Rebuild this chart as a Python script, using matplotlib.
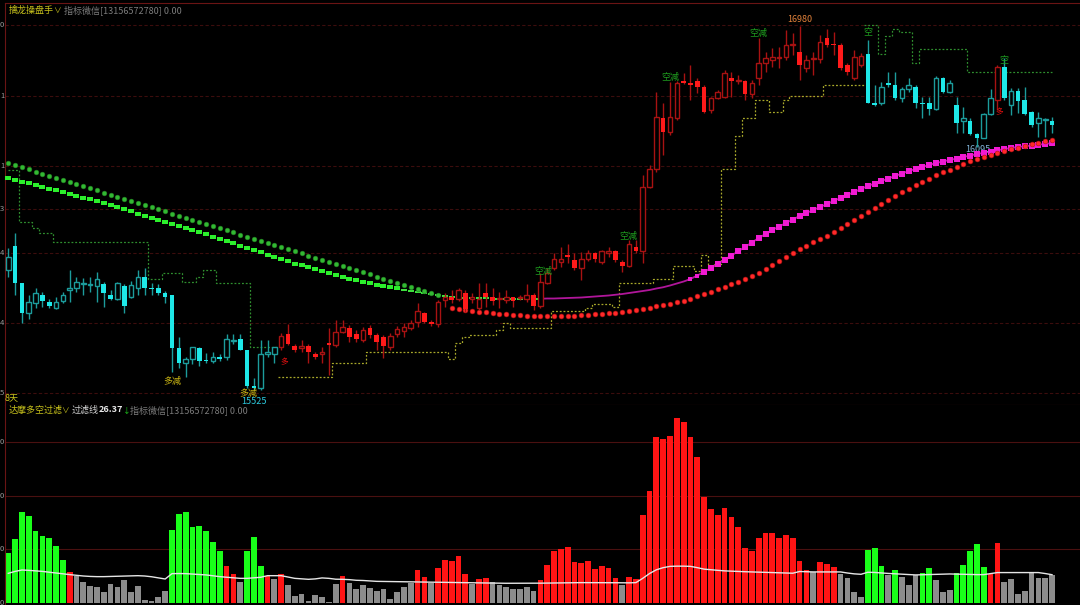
import numpy as np
import matplotlib
matplotlib.use("Agg")
import matplotlib.pyplot as plt
import matplotlib.transforms as mtransforms
from matplotlib.patches import Rectangle
from matplotlib.collections import LineCollection

plt.rcParams['font.family'] = ['Noto Sans CJK SC', 'DejaVu Sans']

# ---- price candles (154 bars) ----
opens = [16005, 16101, 15953, 15833, 15873, 15905, 15877, 15853, 15881, 15925,
         15933, 15949, 15945, 15941, 15949, 15905, 15889, 15941, 15897, 15933,
         15977, 15933, 15933, 15913, 15905, 15693, 15633, 15649, 15693, 15645,
         15641, 15657, 15657, 15721, 15729, 15685, 15541, 15533, 15669, 15669,
         15697, 15749, 15701, 15693, 15701, 15669, 15669, 15713, 15705, 15757,
         15773, 15749, 15725, 15773, 15745, 15737, 15697, 15749, 15761, 15773,
         15797, 15833, 15797, 15789, 15885, 15897, 15889, 15913, 15889, 15853,
         15913, 15897, 15889, 15885, 15897, 15893, 15889, 15905, 15861, 15953,
         16013, 16037, 16065, 16045, 16013, 16049, 16073, 16037, 16073, 16081,
         16037, 16021, 16097, 16081, 16337, 16409, 16613, 16557, 16613, 16761,
         16753, 16761, 16737, 16645, 16693, 16697, 16773, 16761, 16761, 16709,
         16773, 16833, 16845, 16853, 16857, 16905, 16877, 16813, 16849, 16849,
         16933, 16909, 16905, 16825, 16773, 16825, 16869, 16673, 16673, 16753,
         16745, 16693, 16729, 16737, 16673, 16673, 16649, 16773, 16717, 16665,
         16601, 16601, 16549, 16533, 16629, 16685, 16817, 16665, 16721, 16685,
         16637, 16593, 16605, 16601]
closes = [16057, 15953, 15833, 15877, 15913, 15881, 15861, 15877, 15905, 15933,
          15957, 15951, 15949, 15969, 15913, 15889, 15953, 15861, 15945, 15977,
          15933, 15931, 15913, 15897, 15693, 15633, 15649, 15697, 15641, 15641,
          15657, 15649, 15729, 15725, 15685, 15541, 15533, 15669, 15677, 15697,
          15741, 15709, 15685, 15701, 15677, 15657, 15677, 15705, 15757, 15777,
          15737, 15729, 15765, 15745, 15717, 15701, 15741, 15769, 15777, 15793,
          15841, 15797, 15789, 15877, 15897, 15885, 15925, 15849, 15897, 15889,
          15897, 15881, 15893, 15897, 15881, 15897, 15905, 15861, 15957, 15993,
          16049, 16049, 16057, 16013, 16049, 16073, 16049, 16081, 16081, 16045,
          16021, 16109, 16081, 16337, 16409, 16617, 16557, 16617, 16753, 16753,
          16745, 16737, 16637, 16693, 16717, 16793, 16761, 16765, 16709, 16753,
          16833, 16853, 16857, 16857, 16905, 16909, 16825, 16845, 16853, 16917,
          16905, 16905, 16813, 16797, 16857, 16861, 16673, 16665, 16737, 16745,
          16693, 16729, 16745, 16673, 16669, 16649, 16773, 16717, 16753, 16593,
          16613, 16549, 16533, 16629, 16693, 16817, 16693, 16721, 16681, 16629,
          16585, 16613, 16609, 16585]
highs = [16093, 16153, 15953, 15905, 15933, 15917, 15889, 15897, 15917, 16005,
         15977, 15973, 15977, 15997, 15957, 15925, 15957, 15949, 15961, 16005,
         16013, 15953, 15949, 15921, 15905, 15737, 15657, 15697, 15697, 15673,
         15677, 15669, 15749, 15749, 15749, 15685, 15573, 15725, 15725, 15697,
         15753, 15789, 15709, 15725, 15709, 15677, 15697, 15773, 15805, 15805,
         15785, 15765, 15777, 15785, 15753, 15745, 15753, 15781, 15793, 15805,
         15873, 15837, 15805, 15885, 15913, 15925, 15933, 15925, 15913, 15953,
         15953, 15933, 15917, 15925, 15897, 15905, 15949, 15913, 15993, 16013,
         16073, 16097, 16109, 16073, 16077, 16085, 16077, 16085, 16097, 16085,
         16045, 16125, 16125, 16385, 16425, 16717, 16673, 16757, 16761, 16793,
         16825, 16773, 16745, 16697, 16725, 16805, 16797, 16785, 16765, 16765,
         16933, 16877, 16893, 16897, 16965, 16953, 16980, 16865, 16877, 16945,
         16969, 16957, 16913, 16833, 16885, 16873, 16925, 16745, 16757, 16797,
         16797, 16737, 16773, 16745, 16697, 16697, 16781, 16777, 16765, 16697,
         16657, 16613, 16553, 16633, 16729, 16825, 16853, 16733, 16733, 16737,
         16641, 16637, 16613, 16617]
lows = [15977, 15905, 15793, 15809, 15853, 15857, 15853, 15849, 15873, 15877,
        15917, 15905, 15917, 15877, 15857, 15885, 15885, 15833, 15893, 15905,
        15905, 15905, 15905, 15873, 15597, 15613, 15577, 15629, 15621, 15633,
        15633, 15641, 15645, 15709, 15685, 15533, 15525, 15527, 15657, 15633,
        15685, 15705, 15677, 15677, 15633, 15649, 15633, 15585, 15697, 15753,
        15717, 15717, 15717, 15733, 15685, 15653, 15685, 15737, 15737, 15765,
        15777, 15793, 15781, 15777, 15857, 15873, 15881, 15837, 15873, 15845,
        15857, 15865, 15853, 15873, 15857, 15885, 15877, 15845, 15853, 15949,
        16005, 16017, 16033, 16005, 15965, 16041, 16037, 16029, 16057, 16037,
        15997, 16017, 16073, 16033, 16333, 16397, 16465, 16545, 16605, 16749,
        16685, 16713, 16633, 16633, 16689, 16693, 16697, 16749, 16685, 16693,
        16745, 16797, 16817, 16813, 16845, 16865, 16765, 16797, 16785, 16833,
        16897, 16865, 16805, 16785, 16765, 16817, 16673, 16661, 16665, 16737,
        16685, 16677, 16717, 16653, 16613, 16625, 16645, 16713, 16713, 16553,
        16553, 16545, 16497, 16533, 16625, 16645, 16685, 16625, 16633, 16625,
        16577, 16537, 16537, 16553]
# trend state of each candle: c = short (cyan), r = long (red)
trend = "c" * 40 + "r" * 86 + "c" * 19 + "r" + "c" * 8

# ---- overlay lines ----
green_dots = [16433, 16425, 16416, 16408, 16399, 16391, 16383, 16374, 16366, 16357,
              16349, 16341, 16332, 16324, 16315, 16307, 16299, 16290, 16282, 16273,
              16265, 16257, 16248, 16240, 16231, 16223, 16215, 16206, 16198, 16189,
              16181, 16173, 16164, 16156, 16147, 16139, 16131, 16122, 16114, 16105,
              16097, 16089, 16080, 16072, 16063, 16055, 16047, 16038, 16030, 16021,
              16013, 16005, 15996, 15988, 15979, 15971, 15963, 15954, 15946, 15937,
              15929, 15921, 15912, 15904]
red_dots = [15852, 15848, 15845, 15842, 15839, 15836, 15834, 15831, 15829, 15827,
            15825, 15823, 15822, 15821, 15821, 15821, 15821, 15822, 15823, 15824,
            15826, 15828, 15830, 15832, 15835, 15839, 15842, 15846, 15850, 15855,
            15860, 15865, 15871, 15877, 15883, 15891, 15900, 15909, 15919, 15929,
            15939, 15949, 15959, 15969, 15981, 15995,
            16011, 16027, 16043, 16059, 16074, 16089, 16103, 16116, 16130, 16143,
            16157, 16173, 16189, 16205, 16221, 16237, 16253, 16269, 16285, 16301,
            16317, 16331, 16344, 16358, 16371, 16385, 16396, 16407, 16418, 16430,
            16441, 16449, 16457, 16465, 16473, 16481, 16488, 16495, 16502, 16508,
            16514, 16521, 16527]
red_dots_start = 65
trend_line = [16373, 16366, 16359, 16352, 16345, 16338, 16331, 16324, 16317, 16309,
              16302, 16295, 16288, 16281, 16273, 16265, 16256, 16248, 16240, 16231,
              16223, 16215, 16207, 16198, 16190, 16182, 16173, 16165, 16157, 16148,
              16139, 16130, 16121, 16112, 16103, 16094, 16085, 16076, 16067, 16058,
              16049, 16040, 16031, 16024, 16016, 16009, 16001, 15993, 15986, 15979,
              15971, 15965, 15959, 15953, 15947, 15941, 15936, 15932, 15927, 15923,
              15919, 15915, 15911, 15907, 15903, 15899, 15897, 15895, 15894, 15893,
              15892, 15891, 15891, 15890, 15890, 15890, 15890, 15890, 15890, 15891,
              15891, 15892, 15893, 15894, 15895, 15897, 15899, 15901, 15903, 15906,
              15909, 15913, 15917, 15921, 15925, 15931, 15936, 15943, 15951, 15959,
              15969, 15983, 15997, 16013, 16029, 16046, 16063, 16080, 16097, 16115,
              16133, 16149, 16165, 16179, 16193, 16207, 16221, 16233, 16245, 16257,
              16269, 16281, 16293, 16305, 16317, 16329, 16341, 16351, 16361, 16371,
              16381, 16391, 16401, 16409, 16417, 16425, 16433, 16439, 16445, 16451,
              16457, 16463, 16469, 16474, 16479, 16484, 16489, 16493, 16497, 16500,
              16503, 16506, 16509, 16513]
stop_line = ([16405] * 2 + [16198] * 2 + [16172] + [16154] * 2 + [16118] * 14 +
             [15968] * 2 + [15994] * 3 + [15958] * 2 + [15978] + [16005] * 2 +
             [15952] * 5 + [15696] * 4 +
             [15578] * 8 + [15632] * 5 + [15676] * 12 + [15649, 15713, 15737] +
             [15745] * 4 + [15765, 15793] + [15774] * 6 + [15842] * 5 + [15852] +
             [15869] * 3 + [15858] + [15954] * 5 + [15968] * 3 + [16021] * 3 +
             [16002, 16065, 16018, 16030] + [16408] * 2 + [16541] + [16612] * 2 +
             [16685] * 2 + [16638] * 2 + [16685] + [16701] * 5 + [16745] * 6 +
             [16985] * 2 + [16869, 16941, 16968] + [16956] * 2 + [16834] +
             [16888] * 7 + [16798] * 13)

# ---- lower panel: 达摩多空过滤 ----
power = [47, 59.5, 85, 81, 67, 63, 61, 53, 40, 29,
         25.5, 19.6, 16, 15, 10, 18, 14.7, 21, 10, 15.6,
         3, 2, 5.6, 11, 68, 83.5, 85, 71, 72, 67,
         57, 49, 34.6, 27.4, 19.6, 49, 62, 34.6, 25.5, 22,
         27, 16.8, 6.8, 8.7, 1.9, 7.8, 5.9, 1, 17.8, 25.2,
         18.7, 13, 17, 14, 11, 13, 3.7, 10.3, 14.7, 19,
         30.5, 24.3, 18.4, 33, 40, 39, 43.6, 27.4, 18, 22.4,
         23, 19.6, 17, 15, 13.4, 13.4, 14.7, 11.5, 21, 35.5,
         48.6, 50.5, 52.3, 38.3, 37, 39.5, 32, 34.6, 33, 23,
         16.8, 24.3, 22.4, 82, 104.7, 155, 153.6, 156, 173, 169,
         155, 136, 99, 87.5, 82, 88.8, 80.4, 71.3, 51.7, 49,
         61, 65.4, 65, 61, 63.8, 60.7, 39, 30.5, 28.7, 38.3,
         36.4, 33.3, 26.8, 23, 10.6, 5.3, 49.5, 51.4, 34.9, 26.5,
         31, 24.3, 16.5, 25.9, 28.3, 33, 21.5, 10.3, 12.4, 27.7,
         35.2, 48.9, 55, 34, 27, 55.8, 19.6, 22.7, 8.4, 11.5,
         27.7, 23.4, 23.4, 25.9]
# G = short power, R = long power, g = below filter
power_state = ("G" * 9 + "R" + "g" * 14 + "G" * 8 + "RR" + "g" + "GGG" + "R" + "g" + "R" +
               "g" * 8 + "R" + "g" * 10 + "RR" + "g" + "R" * 5 + "g" + "RR" + "g" * 7 +
               "R" * 12 + "g" + "R" * 27 + "g" + "RRR" + "g" * 4 + "GGG" + "g" + "G" +
               "ggg" + "GG" + "ggg" + "G" * 5 + "RR" + "g" * 8)
filter_line = [27.7, 29.5, 30.8, 30.5, 30, 29.5, 28.8, 28, 27.2, 26.5,
               25.8, 25.2, 24.8, 24.6, 24.6, 24.8, 25, 25.2, 25.4, 25.5,
               25.2, 24.5, 23.5, 22.4, 27.4, 27.5, 27.4, 27, 26.6, 26.2,
               25.4, 24.6, 24, 23.5, 23, 23, 23.5, 24, 25.5, 25.5,
               25.5, 24.2, 23, 22.5, 22.1, 22.5, 23.4, 23, 22.2, 22.1,
               21.8, 21.2, 21, 20.6, 20.2, 20.1, 20, 19.9, 19.9, 19.8,
               19.7, 19.5, 19.3, 19.3, 19.2, 19.1, 19, 19, 18.9, 18.8,
               18.7, 18.6, 18.5, 18.4, 18.4, 18.4, 18.4, 18.4, 18.5, 18.6,
               18.7, 18.8, 18.9, 19, 19, 19, 19, 19, 19, 18.9,
               18.8, 18.8, 19, 23, 27.5, 31, 33, 34.2, 34.4, 34.4,
               34.2, 33, 31.6, 31, 30.5, 30, 29.7, 29.4, 29.2, 29,
               28.8, 28.6, 28.4, 28.2, 28, 27.8, 29.4, 29.2, 29, 29,
               29, 29, 29, 28, 27.2, 26.8, 28.7, 28.5, 28, 27.6,
               27.2, 26.9, 26.6, 26.2, 26.4, 26.6, 26.8, 27, 27.1, 27,
               26.8, 26.6, 26.5, 26.5, 27.5, 28.4, 28.4, 28.4, 28.4, 28.4,
               28.4, 28.4, 27.5, 26.4]

price_ticks = [16985, 16701, 16421, 16249, 16073, 15793, 15513]
price_tick_labels = ["0", "1", "1", "3", "4", "4", "5"]
power_ticks = [150, 100, 50, 0]

# ---- colours ----
BG = "black"
FRAME = "#6a1414"
GRID = "#3c0d0d"
CYAN = "#1ee8e8"
CYAN_DK = "#1c9c9c"
RED = "#ff1a1a"
RED_DK = "#a81212"
YEL = "#c8c21c"
GRN_TXT = "#1f9f1f"

n = len(opens)
x = np.arange(n)
o = np.array(opens, float)
c = np.array(closes, float)
h = np.array(highs, float)
l = np.array(lows, float)

fig = plt.figure(figsize=(10.8, 6.05), dpi=100, facecolor=BG)
ax = fig.add_axes([5 / 1080, 200 / 605, 1075 / 1080, 402 / 605], facecolor=BG)
ax2 = fig.add_axes([5 / 1080, 0, 1075 / 1080, 200 / 605], facecolor=BG)

for a in (ax, ax2):
    a.set_xlim(-0.48, 157.1)
    a.set_xticks([])
    a.set_yticks([])
    for s in a.spines.values():
        s.set_visible(False)
    a.spines["left"].set_visible(True)
    a.spines["left"].set_color(FRAME)
ax.spines["top"].set_visible(True)
ax.spines["top"].set_color(FRAME)
ax.spines["bottom"].set_visible(True)
ax.spines["bottom"].set_color(FRAME)
ax.set_ylim(15465, 17073)
ax2.set_ylim(-1.9, 185)

# grid lines and cut-off axis labels
lab_tr = mtransforms.blended_transform_factory(ax.transAxes, ax.transData)
for p, t in zip(price_ticks, price_tick_labels):
    ax.axhline(p, color=GRID, lw=0.8, ls=(0, (3, 2)), zorder=0)
    ax.text(-0.0046, p, t, transform=lab_tr, color="#9a9a9a", fontsize=5.5,
            ha="left", va="center", clip_on=False)
lab_tr2 = mtransforms.blended_transform_factory(ax2.transAxes, ax2.transData)
for p in power_ticks:
    if p > 0:
        ax2.axhline(p, color="#4a1010", lw=0.8, zorder=0)
    ax2.text(-0.0046, p, "0", transform=lab_tr2, color="#9a9a9a", fontsize=5.5,
             ha="left", va="center", clip_on=False)

# stop ladder (dotted steps)
stop = np.array(stop_line, float)
green_part = np.where((x < 40) | (x >= 126), stop, np.nan)
yellow_part = np.where((x >= 40) & (x < 126), stop, np.nan)
g1 = green_part.copy(); g1[126:] = np.nan
g2 = green_part.copy(); g2[:126] = np.nan
for seg in (g1, g2):
    ax.plot(x, seg, drawstyle="steps-mid", color="#2f8f2f", lw=0.9, ls=(0, (1.5, 1.5)), zorder=1)
ax.plot(x, yellow_part, drawstyle="steps-mid", color="#a8a82a", lw=0.9, ls=(0, (1.5, 1.5)), zorder=1)

# trend band: thick squares + thin connecting line
tl = np.array(trend_line, float)
ax.plot(x[78:], tl[78:], color="#b0169a", lw=1.3, zorder=2)
rect = [(-1, -0.6), (1, -0.6), (1, 0.6), (-1, 0.6)]
dash = [(-1, -0.35), (1, -0.35), (1, 0.35), (-1, 0.35)]
sq = [(-1, -1), (1, -1), (1, 1), (-1, 1)]
ax.scatter(x[:58], tl[:58], marker=rect, s=4.6 ** 2, color="#2cf02c", lw=0, zorder=3)
ax.scatter(x[58:79], tl[58:79], marker=dash, s=3.8 ** 2, color="#3ee03e", lw=0, zorder=3)
ax.scatter(x[100:102], tl[100:102], marker=sq, s=3.2 ** 2, color="#f01ad2", lw=0, zorder=3)
ax.scatter(x[102:], tl[102:], marker=sq, s=4.4 ** 2, color="#f01ad2", lw=0, zorder=3)

# dotted averages
ax.plot(x[:len(green_dots)], green_dots, ls="none", marker="o", ms=3.4,
        mfc="#33b833", mec="#1f7f1f", mew=0.4, zorder=3)
rx = x[red_dots_start:red_dots_start + len(red_dots)]
ax.plot(rx, red_dots, ls="none", marker="o", ms=3.5,
        mfc="#ff2a2a", mec="#b01010", mew=0.4, zorder=4)

# candles
bw = 0.68
wick_segs, wick_cols = [], []
for i in range(n):
    cyan = trend[i] == "c"
    wick_segs.append([(x[i], l[i]), (x[i], h[i])])
    wick_cols.append(CYAN_DK if cyan else RED_DK)
ax.add_collection(LineCollection(wick_segs, colors=wick_cols, linewidths=1.0, zorder=5))
for i in range(n):
    cyan = trend[i] == "c"
    lo, hi = min(o[i], c[i]), max(o[i], c[i])
    ht = max(hi - lo, 3)
    if c[i] < o[i]:
        ax.add_patch(Rectangle((x[i] - bw / 2, lo), bw, ht,
                               facecolor=CYAN if cyan else RED, edgecolor="none", zorder=6))
    else:
        ax.add_patch(Rectangle((x[i] - bw / 2, lo), bw, ht, facecolor=BG,
                               edgecolor=CYAN_DK if cyan else RED_DK, lw=1.0, zorder=6))

# signal labels
txt = dict(fontsize=6.5, ha="center", va="center", zorder=8)
ax.text(24, 15561, "多减", color="#c8b414", **txt)
ax.text(35.2, 15513, "多减", color="#c8b414", **txt)
ax.text(36, 15481, "15525", color="#2ccce0", **txt)
ax.text(40.4, 15637, "多", color="#e01010", fontsize=5.5, ha="center", va="center", zorder=8)
for xi, yi in [(78.4, 16001), (90.9, 16141), (97, 16776), (110, 16952)]:
    ax.text(xi, yi, "空减", color=GRN_TXT, **txt)
ax.text(126, 16953, "空", color=GRN_TXT, **txt)
ax.text(146, 16841, "空", color=GRN_TXT, **txt)
ax.text(116, 17005, "16980", color="#e0803a", **txt)
ax.text(142.2, 16485, "16095", color="#7fb2d6", fontsize=6.5, ha="center", va="center", zorder=2.5)
ax.text(145.3, 16638, "多", color="#e01010", fontsize=5.5, ha="center", va="center", zorder=8)

# lower panel bars
pcol = {"G": "#19ff19", "R": "#ff1414", "g": "#8c8c8c"}
ax2.bar(x, power, width=0.84, color=[pcol[s] for s in power_state], linewidth=0, zorder=2)
ax2.plot(x, filter_line, color="#e6e6e6", lw=1.0, zorder=3)


# headers
def ftext(px, py, s, col, fs=6.5, **kw):
    fig.text(px / 1080, 1 - py / 605, s, color=col, fontsize=fs, va="center", ha="left", **kw)


ftext(9, 10, "擒龙操盘手", YEL)
ftext(53, 11, "∨", YEL, fs=5.5)
ftext(64, 10, "指标微信[13156572780] 0.00", "#7c7c7c")
ftext(5, 398, "8天", YEL)
ftext(9, 410, "达摩多空过滤", YEL)
ftext(61, 411, "∨", YEL, fs=5.5)
ftext(72, 410, "过滤线", "#cfcfcf")
ftext(99, 410, "26.37", "#e8e8e8", fontweight="bold")
ftext(123, 411, "↓", "#20d020", fs=5.5)
ftext(130, 410, "指标微信[13156572780] 0.00", "#7c7c7c")

fig.savefig("out.png", dpi=100, facecolor=BG)
